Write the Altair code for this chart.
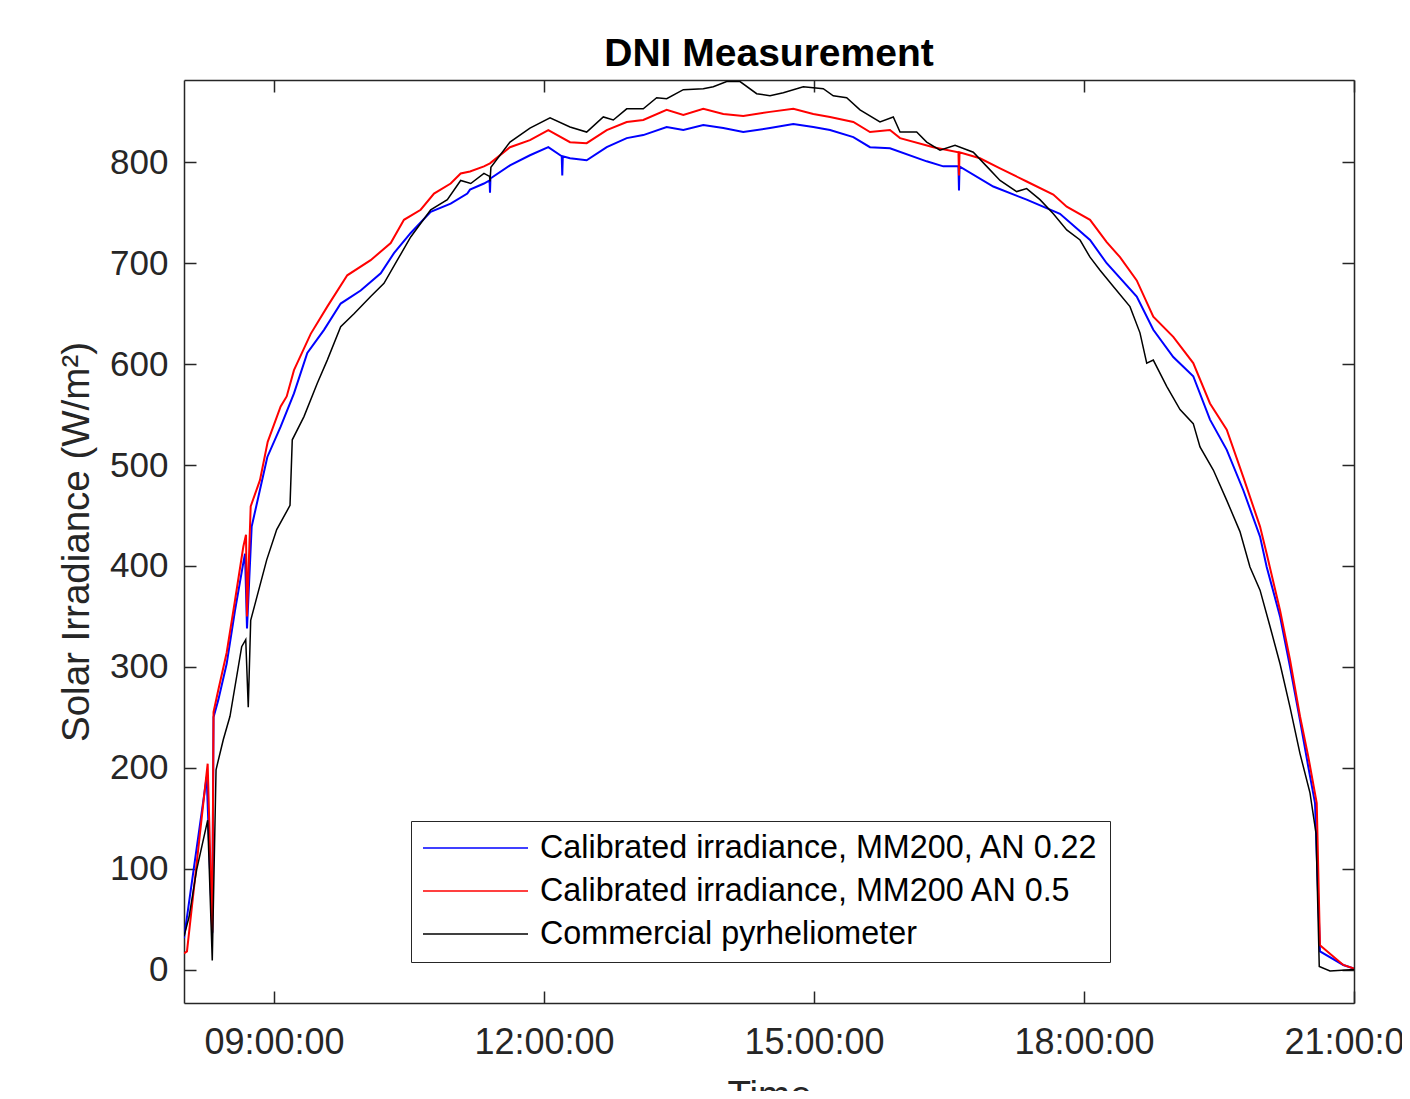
import altair as alt
import pandas as pd

# ---------------- data (hour of day, W/m^2) ----------------
series_names = [
    "Calibrated irradiance, MM200, AN 0.22",
    "Calibrated irradiance, MM200 AN 0.5",
    "Commercial pyrheliometer",
]
series_colors = ["#0000ff", "#ff0000", "#000000"]
series_widths = [2.0, 2.0, 1.5]

blue_points = [
    (8.000, 31), (8.252, 191), (8.314, 36), (8.328, 250), (8.381, 267), (8.474, 303),
    (8.567, 356), (8.659, 403), (8.678, 412), (8.700, 338), (8.752, 439), (8.926, 508),
    (9.074, 538), (9.222, 571), (9.370, 611), (9.556, 634), (9.741, 660), (9.963, 673),
    (10.186, 690), (10.333, 710), (10.519, 730), (10.741, 751), (10.963, 759), (11.148, 769),
    (11.178, 773), (11.333, 779), (11.395, 782), (11.400, 770), (11.405, 784), (11.622, 797),
    (11.844, 807), (12.048, 815), (12.197, 806), (12.203, 787), (12.209, 806), (12.289, 804),
    (12.474, 802), (12.697, 815), (12.919, 824), (13.103, 827), (13.363, 835), (13.548, 832),
    (13.770, 837), (13.992, 834), (14.214, 830), (14.511, 834), (14.770, 838), (14.992, 835),
    (15.178, 832), (15.437, 825), (15.622, 815), (15.844, 814), (16.252, 801), (16.437, 796),
    (16.605, 796), (16.611, 772), (16.617, 796), (16.992, 776), (17.363, 763), (17.733, 749),
    (18.067, 723), (18.252, 700), (18.586, 667), (18.770, 634), (18.992, 607), (19.214, 588),
    (19.400, 545), (19.586, 515), (19.770, 475), (19.956, 429), (20.030, 399), (20.178, 350),
    (20.289, 300), (20.400, 247), (20.492, 201), (20.567, 165), (20.622, 18), (20.881, 4.5),
    (21.000, 1),
]

red_points = [
    (8.000, 16), (8.033, 18), (8.263, 204), (8.314, 37), (8.328, 255), (8.381, 277),
    (8.474, 314), (8.567, 366), (8.659, 419), (8.689, 431), (8.700, 350), (8.741, 459),
    (8.844, 485), (8.930, 523), (9.074, 558), (9.141, 568), (9.222, 594), (9.408, 630),
    (9.592, 657), (9.814, 688), (10.074, 703), (10.297, 720), (10.444, 743), (10.630, 753),
    (10.778, 769), (10.963, 779), (11.074, 789), (11.178, 791), (11.333, 796), (11.400, 799),
    (11.622, 815), (11.844, 822), (12.048, 832), (12.289, 820), (12.474, 819), (12.697, 832),
    (12.919, 840), (13.103, 842), (13.363, 852), (13.548, 847), (13.770, 853), (13.992, 848),
    (14.214, 846), (14.511, 850), (14.770, 853), (14.992, 848), (15.178, 845), (15.437, 840),
    (15.622, 830), (15.844, 832), (15.956, 824), (16.326, 815), (16.605, 810), (16.611, 787),
    (16.617, 810), (16.844, 804), (17.067, 794), (17.363, 781), (17.659, 768), (17.808, 756),
    (18.067, 743), (18.252, 721), (18.400, 706), (18.586, 683), (18.770, 647), (18.992, 627),
    (19.214, 601), (19.400, 561), (19.586, 535), (19.770, 488), (19.956, 439), (20.030, 412),
    (20.178, 356), (20.289, 307), (20.400, 251), (20.492, 211), (20.586, 165), (20.622, 24),
    (20.881, 4.5), (21.000, 1),
]

black_points = [
    (8.000, 33), (8.056, 52), (8.141, 99), (8.263, 148), (8.314, 9), (8.356, 198),
    (8.437, 228), (8.511, 251), (8.641, 320), (8.686, 327), (8.714, 260), (8.741, 346),
    (8.919, 406), (9.030, 436), (9.178, 460), (9.203, 525), (9.333, 548), (9.481, 581),
    (9.592, 604), (9.741, 637), (9.889, 650), (10.074, 667), (10.222, 680), (10.370, 703),
    (10.519, 726), (10.741, 753), (10.926, 763), (11.074, 782), (11.186, 779), (11.333, 789),
    (11.395, 786), (11.400, 781), (11.410, 795), (11.622, 820), (11.844, 834), (12.067, 844),
    (12.289, 835), (12.474, 830), (12.659, 845), (12.770, 842), (12.919, 853), (13.103, 853),
    (13.252, 864), (13.363, 863), (13.548, 872), (13.770, 873), (13.881, 875), (14.030, 880),
    (14.178, 880), (14.363, 868), (14.511, 866), (14.659, 869), (14.881, 875), (15.103, 873),
    (15.214, 866), (15.363, 864), (15.511, 852), (15.733, 840), (15.881, 845), (15.956, 830),
    (16.141, 830), (16.252, 820), (16.400, 812), (16.567, 817), (16.770, 810), (16.919, 796),
    (17.067, 782), (17.252, 771), (17.363, 774), (17.511, 763), (17.659, 749), (17.808, 733),
    (17.956, 723), (18.067, 706), (18.178, 693), (18.326, 677), (18.511, 657), (18.622, 631),
    (18.697, 601), (18.770, 604), (18.919, 578), (19.067, 555), (19.214, 541), (19.289, 518),
    (19.437, 495), (19.586, 465), (19.733, 434), (19.844, 399), (19.956, 376), (20.067, 340),
    (20.178, 303), (20.289, 260), (20.400, 214), (20.511, 175), (20.578, 135), (20.614, 3),
    (20.733, -1.5), (21.000, 0),
]

x_tick_hours = [9, 12, 15, 18, 21]
x_tick_labels = ["09:00:00", "12:00:00", "15:00:00", "18:00:00", "21:00:00"]
y_ticks = [0, 100, 200, 300, 400, 500, 600, 700, 800]
x_domain = [8, 21]
y_domain = [-33.2, 881.6]

# ---------------- build tables ----------------
frames = []
for name, pts in zip(series_names, [blue_points, red_points, black_points]):
    d = pd.DataFrame(pts, columns=["hour", "value"])
    d["series"] = name
    frames.append(d)

label_expr = "''"
for h, lab in reversed(list(zip(x_tick_hours, x_tick_labels))):
    label_expr = f"datum.value == {h} ? '{lab}' : ({label_expr})"

FONT = "Liberation Sans"
AX = "#262626"
TICK = 12
inward = {"expr": f"-{TICK}"}

x_scale = alt.Scale(domain=x_domain, nice=False, zero=False)
y_scale = alt.Scale(domain=y_domain, nice=False, zero=False)

common_axis = dict(
    grid=False, domainColor=AX, domainWidth=1.5, tickColor=AX, tickWidth=1.5,
    tickSize=inward, labelFont=FONT, labelColor=AX,
    titleFont=FONT, titleFontSize=38.5, titleFontWeight="normal", titleColor=AX,
)

x_axis_bottom = alt.Axis(
    orient="bottom", values=x_tick_hours, labelExpr=label_expr, title="Time",
    labelFontSize=36, labelPadding=34, labelFlush=False, labelOverlap=False,
    labelBound=False, titleBaseline="top", titleX=585, titleY=74, **common_axis,
)
y_axis_left = alt.Axis(
    orient="left", values=y_ticks, format="d", title="Solar Irradiance (W/m²)",
    labelFontSize=35, labelPadding=28, labelOverlap=False, titleBaseline="middle",
    titleX=-108, titleY=461.5, titleAngle=270, **common_axis,
)
x_axis_top = alt.Axis(orient="top", values=x_tick_hours, labels=False, title=None, **common_axis)
y_axis_right = alt.Axis(orient="right", values=y_ticks, labels=False, title=None, **common_axis)

legend = alt.Legend(
    orient="none", legendX=227, legendY=741, title=None, symbolType="stroke",
    symbolSize=11025, symbolStrokeWidth=1.5, labelFont=FONT, labelFontSize=32.3,
    labelColor="#000000", labelLimit=1200, padding=11, labelOffset=11, rowPadding=10,
    strokeColor=AX, fillColor="white", clipHeight=32,
)
color = alt.Color(
    "series:N", scale=alt.Scale(domain=series_names, range=series_colors), legend=legend,
)

layers = []
for i, d in enumerate(frames):
    layers.append(
        alt.Chart(d).mark_line(strokeWidth=series_widths[i], clip=True).encode(
            x=alt.X("hour:Q", scale=x_scale, axis=x_axis_bottom if i == 0 else None),
            y=alt.Y("value:Q", scale=y_scale, axis=y_axis_left if i == 0 else None),
            color=color,
        )
    )

frame_layer = alt.Chart(frames[2]).mark_line(opacity=0).encode(
    x=alt.X("hour:Q", scale=x_scale, axis=x_axis_top),
    y=alt.Y("value:Q", scale=y_scale, axis=y_axis_right),
)

chart = (
    alt.layer(*layers, frame_layer)
    .resolve_axis(x="independent", y="independent")
    .properties(
        width=1170, height=923,
        title=alt.TitleParams(
            "DNI Measurement", font=FONT, fontSize=39, fontWeight="bold",
            color="#000000", anchor="middle", baseline="alphabetic", offset=12, dy=38,
        ),
        autosize=alt.AutoSizeParams(type="none"),
        padding={"left": 176, "top": 72, "right": 48, "bottom": 88},
        background="white",
    )
    .configure_view(stroke=None)
)

chart.save("out.html", embed_options={"renderer": "svg", "actions": False})
